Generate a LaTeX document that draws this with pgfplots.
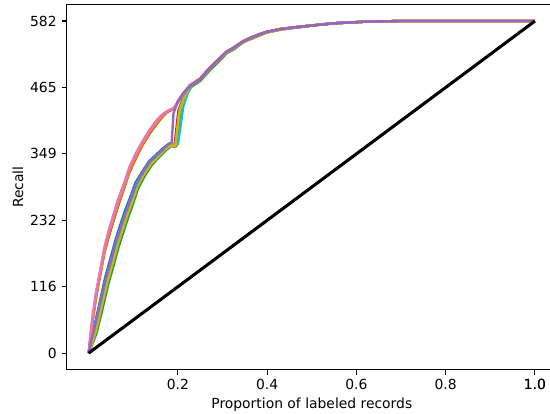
\documentclass[border=0pt]{standalone}
\usepackage{fontspec}
\setmainfont{DejaVu Sans}
\usepackage{pgfplots}
\pgfplotsset{compat=1.18}
\definecolor{tblue}{HTML}{1F77B4}
\definecolor{torange}{HTML}{FF7F0E}
\definecolor{tgreen}{HTML}{2CA02C}
\definecolor{tred}{HTML}{D62728}
\definecolor{tpurple}{HTML}{9467BD}
\definecolor{tbrown}{HTML}{8C564B}
\definecolor{tpink}{HTML}{E377C2}
\definecolor{tgray}{HTML}{7F7F7F}
\definecolor{tolive}{HTML}{BCBD22}
\definecolor{tcyan}{HTML}{17BECF}
\begin{document}
\fontsize{10}{12}\selectfont
\begin{tikzpicture}
\begin{axis}[
  at={(0,0)}, anchor=south west,
  scale only axis,
  width=353.4pt, height=263.0pt,
  xmin=-0.05, xmax=1.05,
  ymin=-29.1, ymax=611.1,
  xtick={0.2,0.4,0.6,0.8,1.0},
  xticklabels={0.2,0.4,0.6,0.8,1.0},
  extra x ticks={1.0},
  extra x tick labels={1.0},
  ytick={0,116.4,232.8,349.2,465.6,582},
  yticklabels={0,116,232,349,465,582},
  tick align=outside,
  tick pos=left,
  major tick length=3.5pt,
  every tick/.style={black, line width=0.8pt},
  axis line style={line width=0.8pt},
  tick label style={font=\fontsize{10}{12}\selectfont},
  label style={font=\fontsize{10}{12}\selectfont},
  /pgf/number format/assume math mode=true,
  xlabel={Proportion of labeled records},
  ylabel={Recall},
  xlabel style={yshift=8pt},
  ylabel style={yshift=-2pt},
  every axis plot/.append style={line width=1.7pt, line join=round},
]
% lower cluster
\addplot[tblue] coordinates {(0,0) (0.005,24) (0.012,45) (0.023,83) (0.037,133) (0.048,164) (0.06,198) (0.072,228) (0.082,251) (0.093,273) (0.105,299) (0.12,318) (0.135,336) (0.15,347) (0.165,358) (0.18,367) (0.194,364) (0.205,428) (0.216,452) (0.228,468) (0.249,481) (0.272,500) (0.294,517) (0.309,528) (0.324,535) (0.346,547) (0.361,552) (0.38,558) (0.399,563) (0.43,568) (0.473,572) (0.51,575) (0.548,578) (0.623,581) (0.697,582) (0.85,582) (1.0,582)};
\addplot[tgreen] coordinates {(0,0) (0.009,17) (0.018,36) (0.029,71) (0.044,121) (0.055,151) (0.067,186) (0.079,215) (0.089,239) (0.1,263) (0.111,289) (0.126,311) (0.141,329) (0.156,342) (0.171,354) (0.185,363) (0.196,362) (0.206,427) (0.217,451) (0.229,466) (0.25,477) (0.273,497) (0.295,514) (0.31,526) (0.325,532) (0.347,545) (0.362,550) (0.381,556) (0.4,562) (0.431,567) (0.474,571) (0.511,575) (0.549,578) (0.624,581) (0.698,582) (0.85,582) (1.0,582)};
\addplot[tred] coordinates {(0,0) (0.007,21) (0.014,41) (0.025,78) (0.04,128) (0.051,158) (0.063,193) (0.075,222) (0.085,245) (0.096,268) (0.108,294) (0.123,315) (0.138,333) (0.153,344) (0.168,356) (0.182,365) (0.192,362) (0.201,425) (0.213,450) (0.226,469) (0.248,480) (0.271,500) (0.293,516) (0.308,528) (0.323,534) (0.345,546) (0.36,552) (0.379,558) (0.398,563) (0.43,568) (0.472,572) (0.51,575) (0.548,578) (0.623,581) (0.697,582) (0.85,582) (1.0,582)};
\addplot[tcyan] coordinates {(0,0) (0.006,23) (0.013,44) (0.024,81) (0.039,131) (0.05,161) (0.062,196) (0.074,225) (0.084,248) (0.095,271) (0.107,297) (0.122,317) (0.137,335) (0.152,346) (0.167,357) (0.182,364) (0.2,366) (0.212,432) (0.222,456) (0.232,470) (0.25,480) (0.272,499) (0.294,516) (0.309,528) (0.324,534) (0.346,546) (0.361,552) (0.38,558) (0.399,563) (0.43,568) (0.473,572) (0.51,575) (0.548,578) (0.623,581) (0.697,582) (0.85,582) (1.0,582)};
\addplot[torange] coordinates {(0,0) (0.007,20) (0.014,40) (0.025,79) (0.04,129) (0.051,159) (0.063,194) (0.075,223) (0.085,246) (0.096,269) (0.108,295) (0.123,316) (0.138,334) (0.153,345) (0.168,357) (0.182,365) (0.195,364) (0.203,424) (0.215,451) (0.227,468) (0.249,479) (0.272,499) (0.294,516) (0.309,527) (0.324,534) (0.346,546) (0.361,551) (0.38,557) (0.399,562) (0.43,567) (0.473,572) (0.51,575) (0.548,578) (0.623,581) (0.697,582) (0.85,582) (1.0,582)};
\addplot[tolive] coordinates {(0,0) (0.008,18) (0.016,38) (0.027,75) (0.042,125) (0.053,155) (0.065,190) (0.077,219) (0.087,243) (0.098,266) (0.109,292) (0.124,313) (0.139,331) (0.154,343) (0.169,355) (0.184,364) (0.194,363) (0.204,426) (0.215,450) (0.227,467) (0.249,479) (0.272,499) (0.294,516) (0.309,527) (0.324,533) (0.346,545) (0.361,551) (0.38,557) (0.399,562) (0.43,567) (0.473,572) (0.51,575) (0.548,578) (0.623,581) (0.697,582) (0.85,582) (1.0,582)};
% upper cluster
\addplot[tbrown] coordinates {(0,0) (0.004,27) (0.009,58) (0.017,100) (0.024,129) (0.035,175) (0.045,204) (0.055,230) (0.066,258) (0.079,288) (0.091,316) (0.106,342) (0.121,365) (0.136,384) (0.151,400) (0.164,413) (0.175,422) (0.19,428) (0.208,450) (0.227,469) (0.249,480) (0.272,500) (0.294,517) (0.309,528) (0.324,535) (0.346,546) (0.361,552) (0.38,558) (0.399,563) (0.43,568) (0.473,572) (0.51,575) (0.548,578) (0.623,581) (0.697,582) (0.85,582) (1.0,582)};
\addplot[tgray] coordinates {(0,0) (0.004,29) (0.009,61) (0.017,103) (0.024,132) (0.035,178) (0.045,207) (0.055,233) (0.066,261) (0.079,291) (0.091,319) (0.106,345) (0.121,368) (0.136,387) (0.151,403) (0.164,415) (0.175,423) (0.19,428) (0.208,449) (0.227,468) (0.249,479) (0.272,499) (0.294,516) (0.309,528) (0.324,534) (0.346,546) (0.361,552) (0.38,558) (0.399,563) (0.43,568) (0.473,572) (0.51,575) (0.548,578) (0.623,581) (0.697,582) (0.85,582) (1.0,582)};
\addplot[torange] coordinates {(0,0) (0.005,30) (0.01,63) (0.018,105) (0.025,134) (0.036,180) (0.045,208) (0.055,234) (0.066,262) (0.08,292) (0.092,320) (0.107,346) (0.122,368) (0.137,387) (0.152,403) (0.165,415) (0.176,423) (0.191,429) (0.208,451) (0.227,470) (0.249,481) (0.272,500) (0.294,517) (0.309,528) (0.324,535) (0.346,547) (0.361,552) (0.38,558) (0.399,563) (0.43,568) (0.473,572) (0.51,575) (0.548,578) (0.623,581) (0.697,582) (0.85,582) (1.0,582)};
\addplot[tpink] coordinates {(0,0) (0.004,33) (0.009,68) (0.017,110) (0.024,139) (0.035,185) (0.044,213) (0.054,239) (0.065,268) (0.079,297) (0.091,326) (0.106,351) (0.121,372) (0.136,391) (0.151,407) (0.164,418) (0.177,425) (0.192,430) (0.209,452) (0.227,470) (0.249,480) (0.272,500) (0.294,516) (0.309,528) (0.324,534) (0.346,546) (0.361,552) (0.38,558) (0.399,563) (0.43,568) (0.473,572) (0.51,575) (0.548,578) (0.623,581) (0.697,582) (0.85,582) (1.0,582)};
\addplot[tpurple] coordinates {(0,0) (0.006,22) (0.013,43) (0.024,81) (0.039,131) (0.05,161) (0.062,196) (0.074,225) (0.084,248) (0.095,271) (0.107,296) (0.122,317) (0.137,335) (0.152,346) (0.167,357) (0.178,366) (0.186,369) (0.19,420) (0.2,442) (0.214,458) (0.228,469) (0.249,480) (0.272,500) (0.294,517) (0.309,528) (0.324,535) (0.346,546) (0.361,552) (0.38,558) (0.399,563) (0.43,568) (0.473,572) (0.51,575) (0.548,578) (0.623,581) (0.697,582) (0.85,582) (1.0,582)};
% diagonal
\addplot[black, line width=2.2pt] coordinates {(0,0) (1.0,582)};
\end{axis}
\pgfresetboundingbox
\path[use as bounding box] (-47.8pt,-31.2pt) rectangle (348.2pt,266.2pt);
\end{tikzpicture}
\end{document}
